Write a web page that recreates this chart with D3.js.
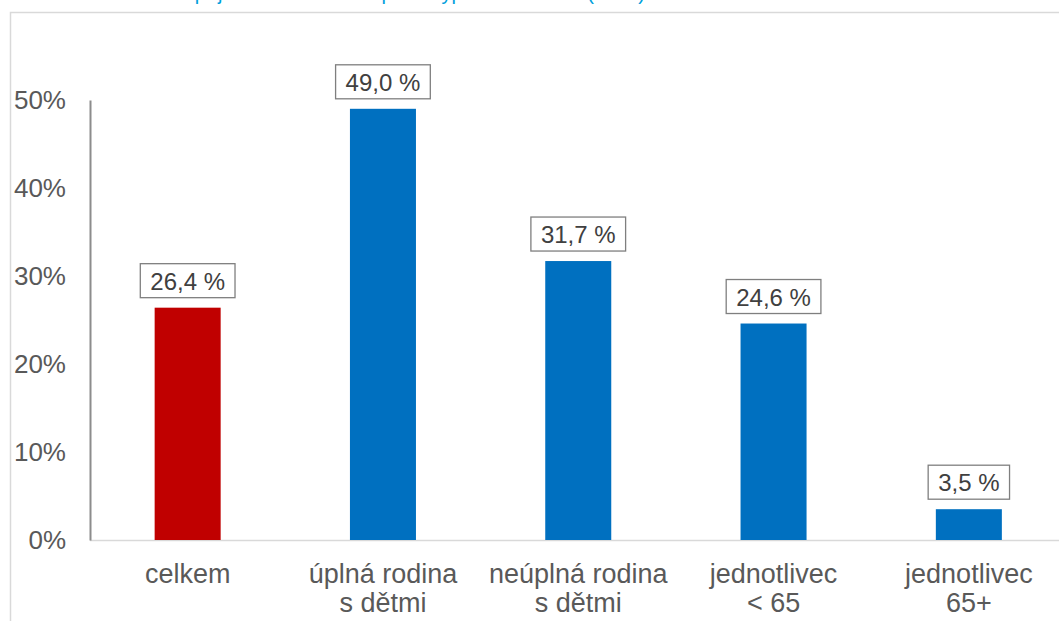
<!DOCTYPE html>
<html><head><meta charset="utf-8">
<script src="https://cdn.jsdelivr.net/npm/d3@7"></script>
<style>body{margin:0;background:#fff;}svg{display:block;font-family:"Liberation Sans",Arial,sans-serif;}</style>
</head><body>
<svg id="c" width="1059" height="621"></svg>
<script>
const categories = [["celkem"], ["úplná rodina", "s dětmi"], ["neúplná rodina", "s dětmi"], ["jednotlivec", "< 65"], ["jednotlivec", "65+"]];
const values = [26.4, 49.0, 31.7, 24.6, 3.5];
const valueLabels = ["26,4 %", "49,0 %", "31,7 %", "24,6 %", "3,5 %"];
const barColors = ["#C00000", "#0070C0", "#0070C0", "#0070C0", "#0070C0"];
const yTicks = [0, 10, 20, 30, 40, 50];
const titleText = "Ohrožení příjmovou chudobou podle typu domácnosti (2023)";

const svg = d3.select("#c");
// outer frame
svg.append("rect").attr("x",10.5).attr("y",12.5).attr("width",1100).attr("height",700)
  .attr("fill","none").attr("stroke","#d9d9d9").attr("stroke-width",1.5);
// title, clipped at the top edge as in the reference (only descenders visible)
svg.append("text").attr("x",645).attr("y",0).attr("text-anchor","end")
  .attr("font-size",20).attr("fill","#00A0DC").text(titleText);

const x = d3.scaleBand().domain(d3.range(values.length)).range([90,1066.5]).paddingInner(0.662).paddingOuter(0.331);
const y = d3.scaleLinear().domain([0,50]).range([540,100]);

// baseline
svg.append("line").attr("x1",90).attr("x2",1059).attr("y1",y(0)+0.5).attr("y2",y(0)+0.5)
  .attr("stroke","#d9d9d9").attr("stroke-width",1.5);
// y axis
const ya = svg.append("g").attr("transform","translate(90,0)")
  .call(d3.axisLeft(y).tickValues(yTicks).tickFormat(d=>d+"%").tickSize(0).tickPadding(24));
ya.select(".domain").attr("stroke","#8c8c8c").attr("stroke-width",2);
ya.selectAll("text").attr("font-size",26).attr("fill","#595959").attr("font-family","Liberation Sans, Arial, sans-serif");

// bars
svg.selectAll("rect.bar").data(values).join("rect").attr("class","bar")
  .attr("x",(d,i)=>x(i)).attr("width",x.bandwidth())
  .attr("y",d=>y(d)).attr("height",d=>y(0)-y(d))
  .attr("fill",(d,i)=>barColors[i]);

// value labels
const lab = svg.selectAll("g.lab").data(values).join("g").attr("class","lab")
  .attr("transform",(d,i)=>`translate(${x(i)+x.bandwidth()/2},${y(d)})`);
lab.each(function(d,i){
  const g = d3.select(this);
  const t = g.append("text").attr("text-anchor","middle").attr("y",-18)
    .attr("font-size",24).attr("fill","#404040").text(valueLabels[i]);
  const bb = t.node().getBBox();
  g.insert("rect","text").attr("x",bb.x-10).attr("y",-44).attr("width",bb.width+20).attr("height",34)
    .attr("fill","#fff").attr("stroke","#7f7f7f").attr("stroke-width",1.3);
});

// category labels
const cl = svg.selectAll("text.cat").data(categories).join("text").attr("class","cat")
  .attr("text-anchor","middle").attr("font-size",27).attr("fill","#595959")
  .attr("transform",(d,i)=>`translate(${x(i)+x.bandwidth()/2},583)`);
cl.selectAll("tspan").data(d=>d).join("tspan").attr("x",0).attr("dy",(d,j)=>j?29:0).text(d=>d);
</script>
</body></html>
